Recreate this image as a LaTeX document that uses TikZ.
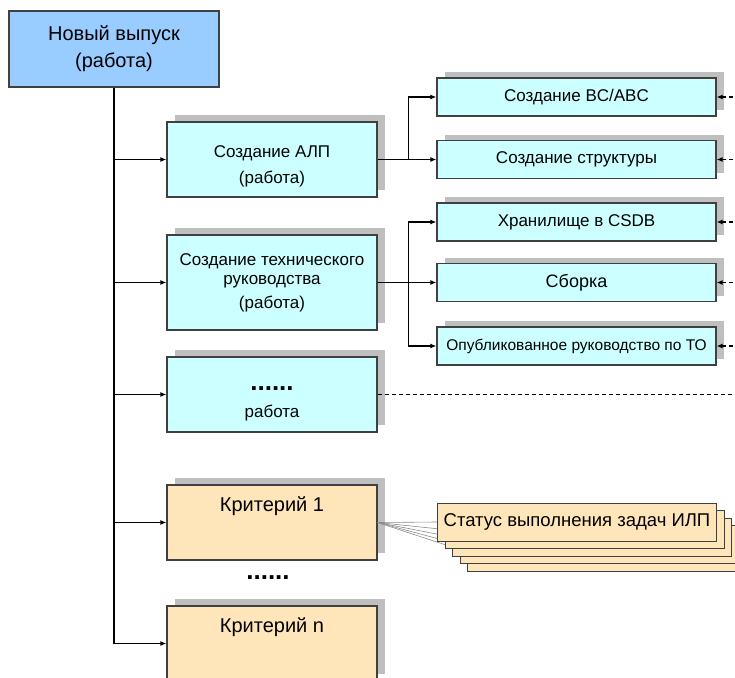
\documentclass[tikz,border=0pt]{standalone}
\usepackage{fontspec}
\setmainfont{Liberation Sans}
\usetikzlibrary{arrows.meta,positioning,shadows}
\definecolor{relblue}{RGB}{153,204,255}
\definecolor{taskcyan}{RGB}{204,255,255}
\definecolor{critorange}{RGB}{255,230,186}
\definecolor{boxline}{RGB}{64,64,64}

\begin{document}
\begin{tikzpicture}[x=1pt, y=-1pt,
    relbox/.style={rectangle, draw=boxline, line width=1.2pt, fill=relblue,
        minimum width=210pt, minimum height=76pt, align=center,
        font=\fontsize{20}{27}\selectfont},
    workbox/.style={rectangle, draw=boxline, line width=1.2pt, fill=taskcyan,
        minimum width=210pt, minimum height=75pt, align=center,
        font=\fontsize{17}{19}\selectfont,
        drop shadow={shadow xshift=8pt, shadow yshift=7pt, fill=black!25, opacity=1}},
    critbox/.style={workbox, fill=critorange, font=\fontsize{20}{24}\selectfont},
    taskbox/.style={rectangle, draw=boxline, line width=1.2pt, fill=taskcyan,
        minimum width=279pt, minimum height=38pt, align=center,
        font=\fontsize{17}{19}\selectfont,
        drop shadow={shadow xshift=8pt, shadow yshift=6pt, fill=black!25, opacity=1}},
    statbox/.style={rectangle, draw=boxline, line width=1pt, fill=critorange,
        minimum width=279pt, minimum height=38pt, anchor=west,
        font=\fontsize{18.5}{20}\selectfont},
    arr/.style={-{Latex[length=6pt,width=5pt]}, line width=1.5pt},
    darr/.style={{Latex[length=6pt,width=5pt]}-, line width=1.2pt, dash pattern=on 4pt off 3pt},
    fanline/.style={draw=black!45, line width=0.6pt},
    bigdots/.style={font=\fontsize{26}{26}\selectfont\bfseries}
]
    \fill[white] (0,0) rectangle (735,677);
    \useasboundingbox (0,0) rectangle (735,677);

    % left column
    \node[relbox] (rel) at (114,49) {Новый выпуск\\(работа)};
    \node[workbox] (alp) at (272,159.5) {\rule{0pt}{26pt}Создание АЛП\\[7pt](работа)};
    \node[workbox, minimum height=95pt] (tech) at (272,282.5)
        {Создание технического\\руководства\\[5pt](работа)};
    \node[workbox] (rab) at (272,394.5)
        {\rule{0pt}{22pt}{\fontsize{26}{26}\selectfont\bfseries ......}\\[8pt]работа};
    \node[critbox] (kr1) at (272,522.5) {Критерий 1\\[12pt]~};
    \node[bigdots] (dots) at (268,578) {......};
    \node[critbox] (krn) at (272,643.5) {Критерий n\\[12pt]~};

    % right column
    \node[taskbox] (vbc) at (576.5,97) {Создание BC/ABC};
    \node[taskbox] (struct) at (576.5,159.5) {Создание структуры};
    \node[taskbox] (csdb) at (576.5,222) {Хранилище в CSDB};
    \node[taskbox, font=\fontsize{18}{20}\selectfont] (sborka) at (576.5,282.5) {Сборка};
    \node[taskbox, font=\fontsize{15.5}{18}\selectfont] (publ) at (576.5,346) {Опубликованное руководство по ТО};

    % trunk
    \draw[arr] (rel.south) |- (alp.west);
    \draw[arr] (rel.south) |- (tech.west);
    \draw[arr] (rel.south) |- (rab.west);
    \draw[arr] (rel.south) |- (kr1.west);
    \draw[arr] (rel.south) |- (krn.west);

    % branches
    \draw[arr] (alp.east) -- ++(31,0) |- (vbc.west);
    \draw[arr] (alp.east) -- (struct.west);
    \draw[arr] (tech.east) -- ++(31,0) |- (csdb.west);
    \draw[arr] (tech.east) -- (sborka.west);
    \draw[arr] (tech.east) -- ++(31,0) |- (publ.west);

    % incoming from the right
    \foreach \t in {vbc,struct,csdb,sborka,publ}
        \draw[darr] (\t.east) -- ++(20,0);
    \draw[line width=1.2pt, dash pattern=on 4pt off 3pt] (rab.east) -- ++(360,0);

    % status stack
    \foreach \k in {0,...,4}
        \coordinate (f\k) at ({437+7.5*\k},{522+7.5*\k});
    \foreach \k in {0,...,4}
        \draw[fanline] (kr1.east) -- (f\k);
    \foreach \k in {4,3,2,1}
        \node[statbox] (st\k) at (f\k) {};
    \node[statbox] (st0) at (f0) {Статус выполнения задач ИЛП};
\end{tikzpicture}
\end{document}
